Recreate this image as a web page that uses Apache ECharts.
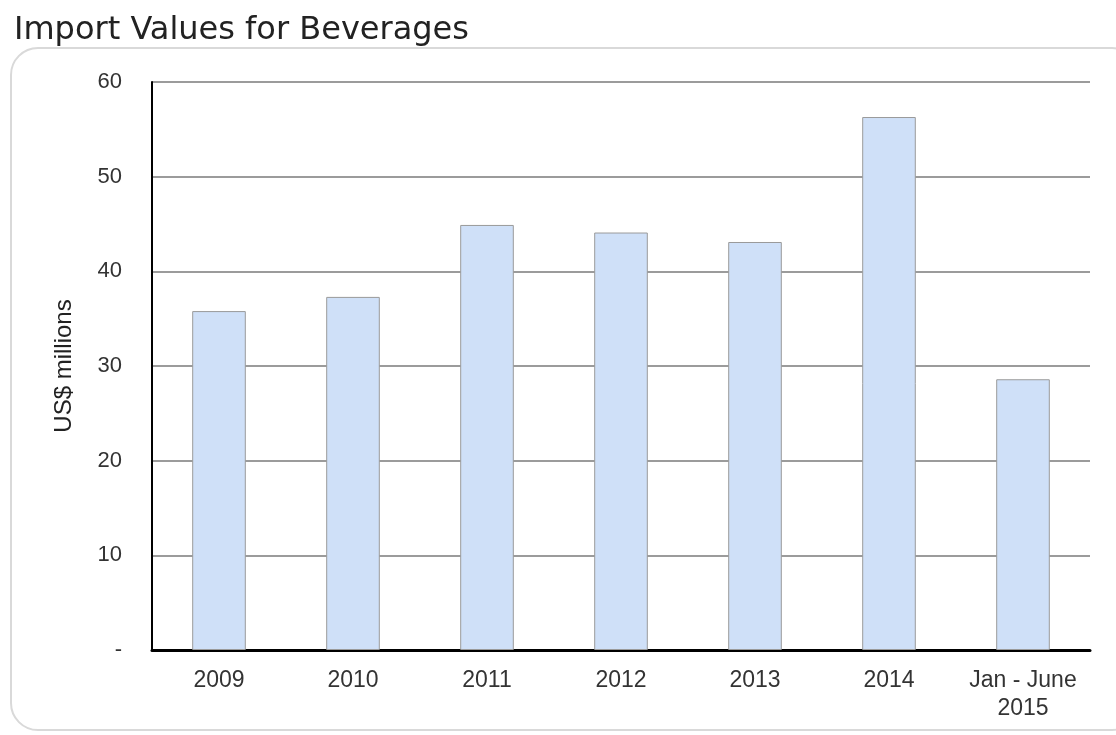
<!DOCTYPE html>
<html>
<head>
<meta charset="utf-8">
<script src="https://cdn.jsdelivr.net/npm/echarts@6/dist/echarts.min.js"></script>
<style>
  html, body { margin: 0; padding: 0; background: #fff; }
  #frame {
    position: absolute; left: 10px; top: 47px; width: 1130px; height: 684px;
    border: 2px solid #d9d9d9; border-radius: 28px; box-sizing: border-box;
  }
  #chart { position: absolute; left: 0; top: 0; width: 1116px; height: 735px; }
</style>
</head>
<body>
<div id="frame"></div>
<div id="chart"></div>
<script>
const categories = ['2009', '2010', '2011', '2012', '2013', '2014', 'Jan - June\n2015']
const importValues = [35.8, 37.3, 44.9, 44.1, 43.1, 56.3, 28.6]
const yTicks = [0, 10, 20, 30, 40, 50, 60]

const font = 'Liberation Sans'
const chart = echarts.init(document.getElementById('chart'), null, { renderer: 'canvas' })

chart.setOption({
  animation: false,
  backgroundColor: 'transparent',
  title: {
    text: 'Import Values for Beverages',
    left: 9,
    top: 10,
    textStyle: { fontFamily: 'DejaVu Sans', fontWeight: 'normal', fontSize: 32, color: '#222' },
  },
  grid: { left: 152, right: 26, top: 82, bottom: 85 },
  xAxis: {
    type: 'category',
    data: categories,
    axisLine: { lineStyle: { color: '#000', width: 3 } },
    axisTick: { show: false },
    axisLabel: {
      margin: 17,
      fontFamily: font,
      fontSize: 23,
      color: '#333',
      lineHeight: 28,
      interval: 0,
    },
  },
  yAxis: {
    type: 'value',
    min: 0,
    max: 60,
    interval: 10,
    name: 'US$ millions',
    nameLocation: 'middle',
    nameGap: 76,
    nameTextStyle: { fontFamily: font, fontSize: 24, color: '#222' },
    axisLine: { show: true, lineStyle: { color: '#000', width: 2 } },
    axisTick: { show: false },
    axisLabel: {
      margin: 30,
      fontFamily: font,
      fontSize: 22,
      color: '#333',
      formatter: v => (yTicks.includes(v) ? (v === 0 ? '-' : String(v)) : ''),
    },
    splitLine: { lineStyle: { color: '#7a7a7a', width: 1.5 } },
  },
  series: [
    {
      type: 'bar',
      data: importValues,
      barWidth: '40%',
      itemStyle: { color: '#cfe0f8', borderColor: '#9a9a9a', borderWidth: 1 },
    },
  ],
})
</script>
</body>
</html>
